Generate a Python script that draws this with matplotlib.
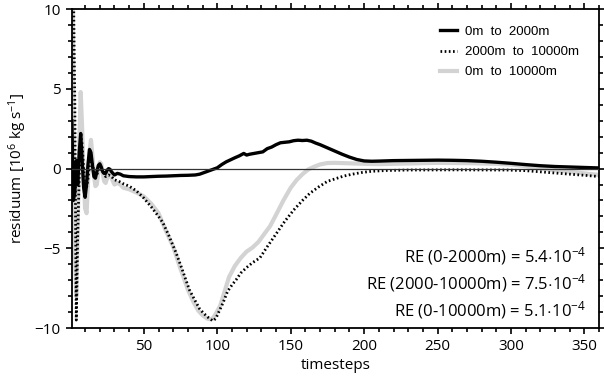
import matplotlib
matplotlib.use("Agg")
import matplotlib.pyplot as plt
from matplotlib.ticker import MultipleLocator

# ==========================================
# DATA: residuum per layer over timesteps
# ==========================================

t_upper = [1, 2, 3, 4, 5, 6, 7, 8, 9, 10, 11, 12, 13, 14, 15, 16, 17, 18, 19, 20,
           21, 22, 23, 24, 25, 26, 27, 28, 30, 32, 34, 36, 40, 45, 50, 55, 60, 65,
           70, 75, 80, 85, 88, 91, 94, 97, 100, 103, 106, 109, 112, 115, 118, 120,
           122, 125, 128, 131, 134, 137, 140, 143, 146, 149, 152, 155, 158, 161,
           164, 167, 170, 175, 180, 185, 190, 195, 200, 205, 210, 220, 230, 240,
           250, 260, 270, 280, 290, 300, 310, 320, 330, 340, 350, 360]
res_upper = [3.0, -2.0, -1.5, 0.5, -1.0, 1.0, 2.2, 0.5, -1.2, -1.8, -1.0, 0.3, 1.2,
             1.0, 0.2, -0.5, -0.6, -0.2, 0.2, 0.3, 0.1, -0.2, -0.3, -0.3, -0.1, 0.0,
             -0.05, -0.2, -0.4, -0.3, -0.35, -0.45, -0.5, -0.52, -0.52, -0.5, -0.48,
             -0.47, -0.45, -0.43, -0.42, -0.4, -0.35, -0.25, -0.15, -0.05, 0.05,
             0.25, 0.42, 0.55, 0.68, 0.8, 0.95, 0.85, 0.9, 0.95, 1.0, 1.05, 1.25,
             1.35, 1.5, 1.62, 1.65, 1.68, 1.75, 1.78, 1.76, 1.78, 1.72, 1.6, 1.5,
             1.3, 1.1, 0.9, 0.72, 0.57, 0.48, 0.46, 0.47, 0.5, 0.51, 0.52, 0.53,
             0.52, 0.5, 0.46, 0.4, 0.33, 0.25, 0.18, 0.13, 0.1, 0.07, 0.04]

t_deep = [1, 2, 3, 4, 5, 6, 7, 8, 9, 10, 11, 12, 13, 14, 15, 16, 17, 18, 19, 20,
          22, 24, 26, 28, 30, 33, 36, 40, 45, 50, 55, 60, 63, 67, 72, 76, 81, 85,
          88, 91, 94, 97, 99, 101, 104, 107, 110, 113, 116, 120, 124, 129, 134,
          140, 146, 152, 158, 163, 169, 175, 180, 186, 192, 198, 205, 215, 230,
          260, 297, 310, 325, 340, 350, 360]
res_deep = [14.0, 12.0, 4.0, -9.5, -4.0, -0.5, 2.2, 1.5, 0.0, -1.0, -1.2, -0.6, 0.2,
            0.6, 0.3, -0.2, -0.5, -0.4, -0.1, 0.05, -0.2, -0.5, -0.4, -0.5, -0.7,
            -0.8, -0.95, -1.1, -1.4, -1.85, -2.4, -3.0, -3.4, -4.2, -5.3, -6.3,
            -7.6, -8.3, -8.8, -9.1, -9.35, -9.55, -9.4, -9.0, -8.4, -7.7, -7.3,
            -6.95, -6.55, -6.2, -5.9, -5.6, -4.9, -4.1, -3.3, -2.6, -2.0, -1.55,
            -1.15, -0.8, -0.65, -0.47, -0.35, -0.25, -0.17, -0.12, -0.09, -0.08,
            -0.09, -0.13, -0.24, -0.35, -0.42, -0.5]

t_total = [1, 2, 3, 4, 5, 6, 7, 8, 9, 10, 11, 12, 13, 14, 15, 16, 17, 18, 19, 20,
           21, 22, 23, 24, 25, 26, 27, 28, 30, 32, 34, 36, 40, 45, 50, 55, 60, 65,
           70, 75, 77, 80, 84, 87, 90, 93, 95, 97, 99, 102, 105, 108, 112, 116,
           120, 124, 128, 132, 136, 140, 145, 150, 154, 158, 162, 166, 170, 175,
           180, 190, 200, 210, 230, 250, 270, 290, 300, 310, 320, 330, 340, 350, 360]
res_total = [18.0, 4.0, -5.0, -8.0, -3.5, 1.5, 4.8, 2.5, -0.5, -2.5, -2.8, -0.8, 1.0,
             1.8, 0.8, -0.4, -1.1, -1.0, -0.2, 0.4, 0.3, -0.3, -0.8, -0.9, -0.6,
             -0.3, -0.3, -0.6, -1.0, -0.9, -1.0, -1.2, -1.3, -1.5, -1.75, -2.2,
             -2.8, -3.9, -4.9, -6.3, -6.8, -7.6, -8.4, -8.9, -9.2, -9.4, -9.45,
             -9.4, -9.1, -8.6, -7.7, -6.8, -6.1, -5.6, -5.2, -4.95, -4.6, -4.1,
             -3.6, -2.9, -2.0, -1.2, -0.72, -0.35, -0.05, 0.12, 0.26, 0.35, 0.36,
             0.33, 0.3, 0.28, 0.32, 0.36, 0.34, 0.3, 0.25, 0.15, 0.02, -0.1, -0.2,
             -0.3, -0.4]

labels = ["0m  to  2000m", "2000m  to  10000m", "0m  to  10000m"]
re_labels = ["RE (0-2000m) = 5.4$\\cdot$10$^{-4}$",
             "RE (2000-10000m) = 7.5$\\cdot$10$^{-4}$",
             "RE (0-10000m) = 5.1$\\cdot$10$^{-4}$"]

# ==========================================
# PLOT
# ==========================================

plt.rcParams["font.family"] = ["Open Sans", "DejaVu Sans"]
plt.rcParams["mathtext.fontset"] = "custom"
plt.rcParams["mathtext.rm"] = "Open Sans"
plt.rcParams["mathtext.it"] = "Open Sans"

fig = plt.figure(figsize=(6.04, 3.81), dpi=100)
ax = fig.add_axes([0.119, 0.139, 0.873, 0.837])

ax.plot(t_total, res_total, color="#d3d3d3", lw=3.0, label=labels[2], zorder=2)
ax.plot(t_deep, res_deep, color="black", lw=2.0, ls=(0, (0.6, 0.9)),
        label=labels[1], zorder=3)
ax.plot(t_upper, res_upper, color="black", lw=2.4, label=labels[0], zorder=4)
ax.axhline(0, color="#333333", lw=0.9, zorder=5)

ax.set_xlim(1, 360)
ax.set_ylim(-10, 10)
ax.xaxis.set_major_locator(MultipleLocator(50))
ax.xaxis.set_minor_locator(MultipleLocator(10))
ax.yaxis.set_major_locator(MultipleLocator(5))
ax.yaxis.set_minor_locator(MultipleLocator(1))
ax.set_xticks([50, 100, 150, 200, 250, 300, 350])

ax.tick_params(which="both", direction="out", top=True, right=True,
               labeltop=False, labelright=False, width=1.2, labelsize=11)
ax.tick_params(which="major", length=4.5)
ax.tick_params(which="minor", length=2.6)
for s in ax.spines.values():
    s.set_linewidth(1.3)

ax.set_xlabel("timesteps", fontsize=11, labelpad=3)
ax.set_ylabel("residuum [10$^6$ kg s$^{-1}$]", fontsize=11, labelpad=4)

handles, leg_labels = ax.get_legend_handles_labels()
order = [2, 1, 0]
ax.legend([handles[i] for i in order], [leg_labels[i] for i in order],
          loc="upper right", bbox_to_anchor=(0.985, 0.985), frameon=False,
          handlelength=1.3, handletextpad=0.6, labelspacing=0.6,
          prop={"family": "Liberation Sans", "size": 9.5})

for i, txt in enumerate(re_labels):
    ax.text(0.975, 0.226 - 0.085 * i, txt, transform=ax.transAxes,
            ha="right", va="center", fontsize=12)

fig.savefig("out.png", dpi=100)
